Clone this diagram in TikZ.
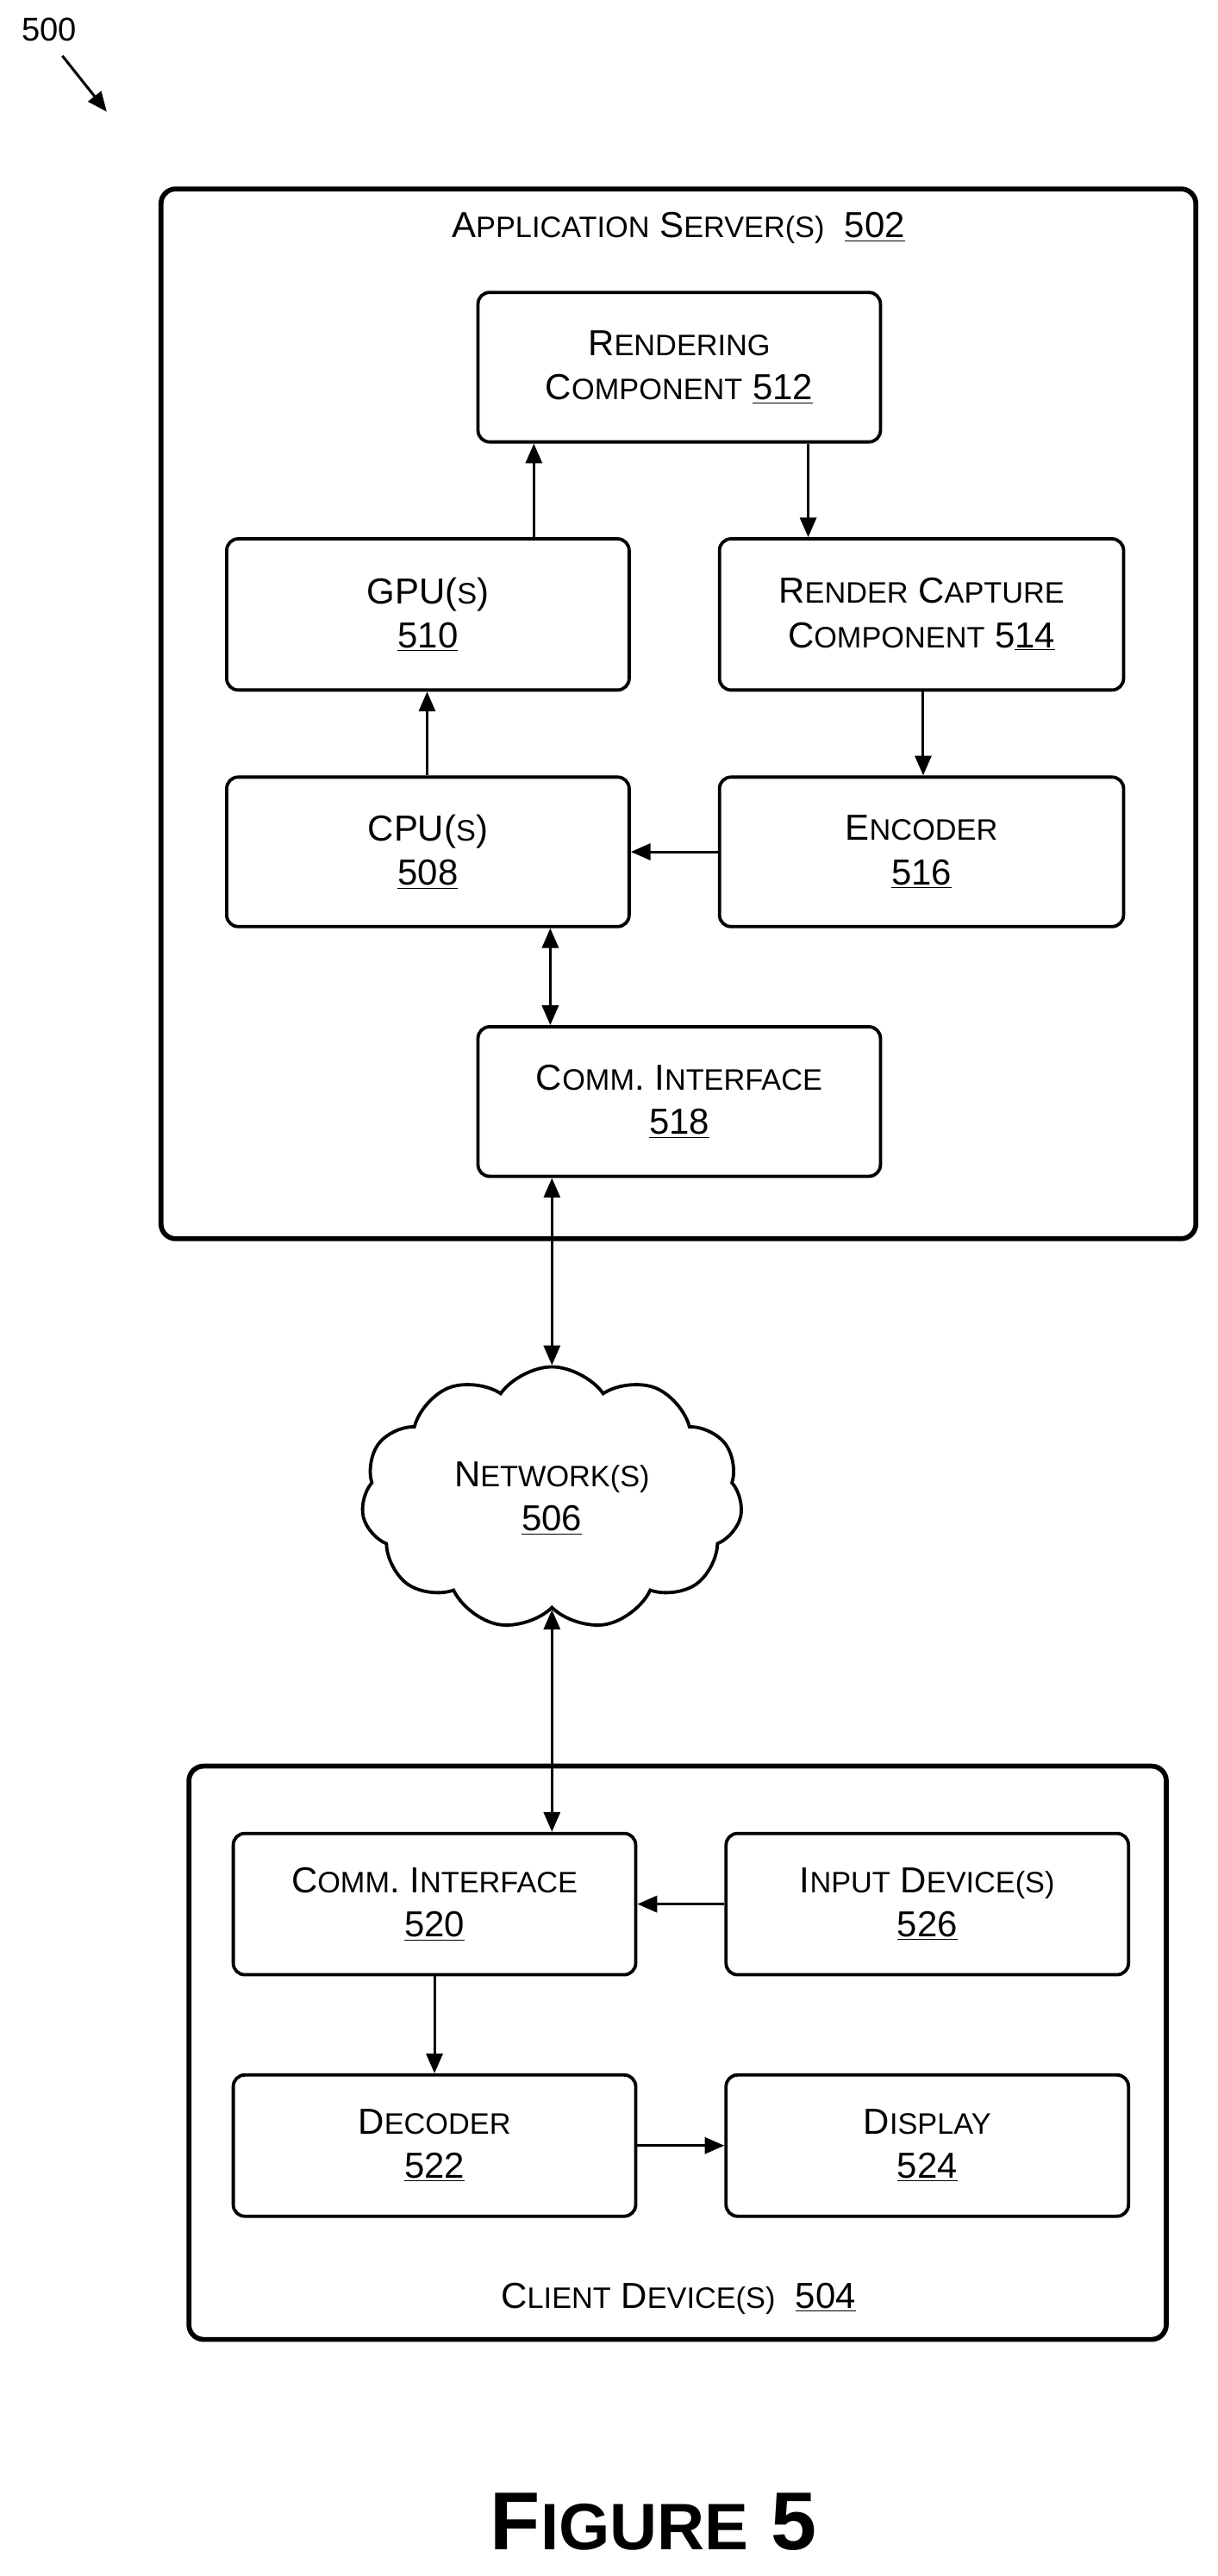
\documentclass[tikz,border=0pt]{standalone}
\usepackage{fontspec}
\setmainfont{Liberation Sans}
\usetikzlibrary{shapes.symbols,arrows.meta}
\newcommand\SC[2]{#1{\fontsize{18}{18}\selectfont #2}}
\newcommand\U[1]{\underline{#1}}
\begin{document}
\begin{tikzpicture}[x=1pt,y=1pt,
  box/.style={draw,line width=2pt,rounded corners=7pt,align=center,font=\fontsize{22}{27}\selectfont,inner sep=0pt},
  outer/.style={draw,line width=3pt,rounded corners=9pt},
  arr/.style={line width=1.6pt,-{Triangle[length=12pt,width=10pt]}},
  darr/.style={line width=1.6pt,{Triangle[length=12pt,width=10pt]}-{Triangle[length=12pt,width=10pt]}},
  lbl/.style={font=\fontsize{22}{27}\selectfont}]
\useasboundingbox (0,0) rectangle (741,-1568);
\node[outer,minimum width=630,minimum height=639] (srv) at (413,-434.5) {};
\node[outer,minimum width=595,minimum height=349] (cli) at (412.5,-1249.5) {};
\node[lbl] (srvl) at (413,-139) {\SC{A}{PPLICATION} \SC{S}{ERVER(S)}\ \ \U{502}};
\node[lbl] (clil) at (413,-1399) {\SC{C}{LIENT} \SC{D}{EVICE(S)}\ \ \U{504}};
\node[box,minimum width=245,minimum height=91] (ren) at (413.5,-223.5) {\SC{R}{ENDERING}\\\SC{C}{OMPONENT} \U{512}};
\node[box,minimum width=245,minimum height=92] (gpu) at (260.5,-374) {GPU(\SC{}{S})\\\U{510}};
\node[box,minimum width=246,minimum height=92] (cap) at (561,-374) {\SC{R}{ENDER} \SC{C}{APTURE}\\\SC{C}{OMPONENT} 5\U{14}};
\node[box,minimum width=245,minimum height=91] (cpu) at (260.5,-518.5) {CPU(\SC{}{S})\\\U{508}};
\node[box,minimum width=246,minimum height=91] (enc) at (561,-518.5) {\SC{E}{NCODER}\\\U{516}};
\node[box,minimum width=245,minimum height=91] (ci1) at (413.5,-670.5) {\SC{C}{OMM}. \SC{I}{NTERFACE}\\\U{518}};
\node[draw,line width=2pt,cloud,cloud puffs=11,cloud puff arc=110,aspect=1.5,minimum width=232,minimum height=160,align=center,font=\fontsize{22}{27}\selectfont,inner sep=0pt] (net) at (336,-912) {\SC{N}{ETWORK(S)}\\\U{506}};
\node[box,minimum width=245,minimum height=86] (ci2) at (264.5,-1159) {\SC{C}{OMM}. \SC{I}{NTERFACE}\\\U{520}};
\node[box,minimum width=245,minimum height=86] (inp) at (564.5,-1159) {\SC{I}{NPUT} \SC{D}{EVICE(S)}\\\U{526}};
\node[box,minimum width=245,minimum height=86] (dec) at (264.5,-1306) {\SC{D}{ECODER}\\\U{522}};
\node[box,minimum width=245,minimum height=86] (dis) at (564.5,-1306) {\SC{D}{ISPLAY}\\\U{524}};
\draw[arr] (cpu.north -| 260,0) -- (gpu.south -| 260,0);
\draw[arr] (gpu.north -| 325,0) -- (ren.south -| 325,0);
\draw[arr] (ren.south -| 492,0) -- (cap.north -| 492,0);
\draw[arr] (cap.south -| 562,0) -- (enc.north -| 562,0);
\draw[arr] (enc.west) -- (cpu.east);
\draw[darr] (cpu.south -| 335,0) -- (ci1.north -| 335,0);
\draw[darr] (ci1.south -| 336,0) -- (net.north -| 336,0);
\draw[darr] (net.south -| 336,0) -- (ci2.north -| 336,0);
\draw[arr] (inp.west) -- (ci2.east);
\draw[arr] (ci2.south) -- (dec.north);
\draw[arr] (dec.east) -- (dis.west);
\node[lbl,font=\fontsize{20}{24}\selectfont] (n500) at (30,-18) {500};
\coordinate (a500) at (65,-68);
\draw[arr] (38,-34) -- (a500);
\node[font=\bfseries\fontsize{50}{60}\selectfont] (fig) at (398,-1535) {F{\fontsize{40}{48}\selectfont IGURE} 5};
\end{tikzpicture}
\end{document}
